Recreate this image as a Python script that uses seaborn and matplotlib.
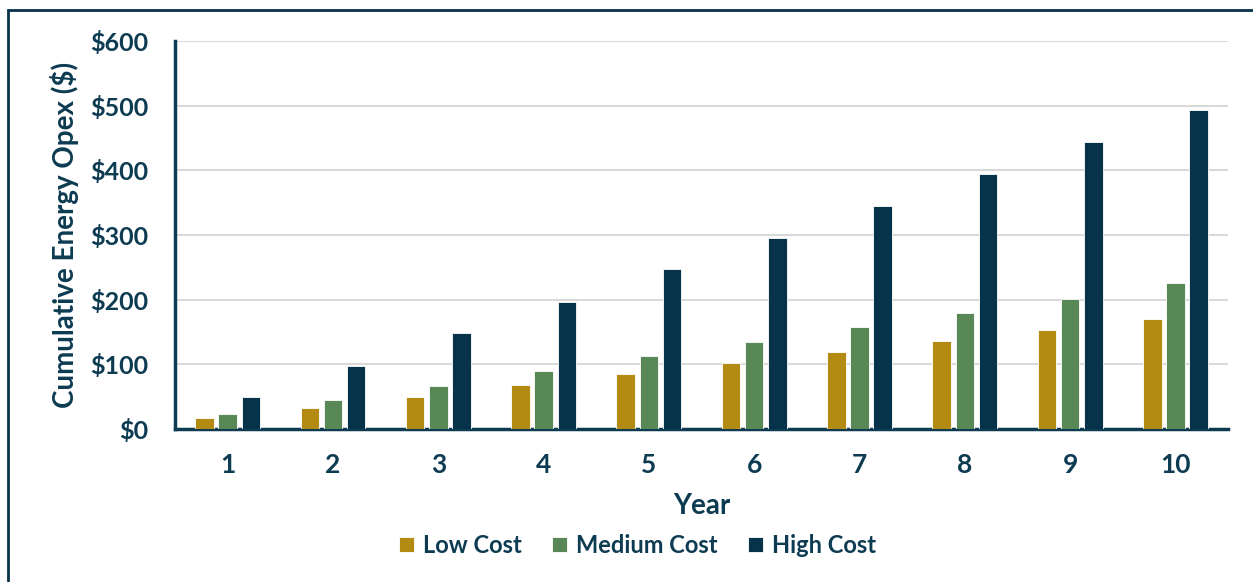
import seaborn as sns
import matplotlib.pyplot as plt
import pandas as pd
from matplotlib.patches import Rectangle
from matplotlib.ticker import FuncFormatter, FixedLocator

years = [1, 2, 3, 4, 5, 6, 7, 8, 9, 10]
low_cost = [17, 33, 50, 68, 85, 102, 119, 136, 153, 170]
medium_cost = [23, 45, 67, 90, 113, 135, 158, 180, 201, 225]
high_cost = [49, 98, 148, 197, 247, 296, 345, 395, 444, 494]
series_names = ["Low Cost", "Medium Cost", "High Cost"]
colors = ["#B38A12", "#588856", "#06324A"]
navy = "#0D3B52"

df = pd.DataFrame({
    "Year": years * 3,
    "Value": low_cost + medium_cost + high_cost,
    "Series": [s for s in series_names for _ in years],
})

sns.set_style("white")
plt.rcParams['font.family'] = ['Lato', 'DejaVu Sans']

fig = plt.figure(figsize=(12.53, 5.82), dpi=100)
ax = fig.add_axes([0.1397, 0.2629, 0.8404, 0.6667])

sns.barplot(
    data=df, x="Year", y="Value", hue="Series",
    palette=colors, saturation=1, width=0.66, gap=0.2,
    edgecolor="white", linewidth=0.6,
    ax=ax, zorder=3,
)

ax.set_ylim(0, 600)
ax.set_xlim(-0.5, 9.5)
ax.yaxis.set_major_locator(FixedLocator([0, 100, 200, 300, 400, 500, 600]))
ax.yaxis.set_major_formatter(FuncFormatter(lambda v, p: f"${v:.0f}"))
ax.grid(axis='y', color="#D9D9D9", linewidth=1.5, zorder=0)
ax.set_axisbelow(True)

# ticks sit between the year groups, labels in the middle
ax.set_xticks([i - 0.5 for i in range(11)], minor=False)
ax.set_xticklabels([])
ax.set_xticks(range(10), minor=True)
ax.set_xticklabels([str(y) for y in years], minor=True)
ax.tick_params(axis='x', which='major', length=7, width=2.2, color=navy, direction='out')
ax.tick_params(axis='x', which='minor', length=0, pad=17,
               labelsize=19, labelcolor=navy)
ax.tick_params(axis='y', length=7, width=2.2, color=navy, direction='out',
               labelsize=18, labelcolor=navy, pad=12)
for lbl in ax.get_yticklabels() + ax.get_xticklabels(minor=True):
    lbl.set_fontweight('bold')

for side in ['top', 'right']:
    ax.spines[side].set_visible(False)
for side in ['left', 'bottom']:
    ax.spines[side].set_color(navy)
    ax.spines[side].set_linewidth(2.5)

ax.set_xlabel("Year", fontsize=20, fontweight='bold', color=navy, labelpad=12)
ax.set_ylabel("Cumulative Energy Opex ($)", fontsize=20, fontweight='bold',
              color=navy, labelpad=8)

ax.legend(
    loc='center', bbox_to_anchor=(0.439, -0.30), ncol=3, frameon=False,
    prop={'size': 17, 'weight': 'bold'}, handlelength=0.65, handleheight=0.65,
    columnspacing=1.3, handletextpad=0.35,
)
for t in ax.get_legend().get_texts():
    t.set_color(navy)

fig.patches.append(Rectangle((8 / 1253, -0.05), 1.2, (582 - 10) / 582 + 0.05,
                             transform=fig.transFigure, fill=False,
                             edgecolor="#06324A", linewidth=2))

fig.savefig("out.png", dpi=100)
